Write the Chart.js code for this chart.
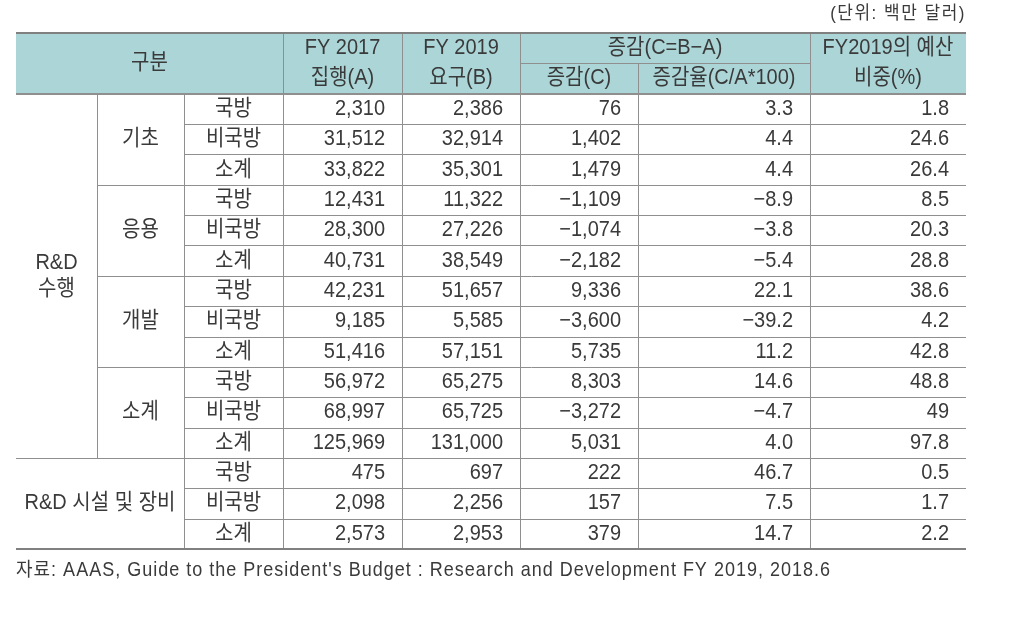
<!DOCTYPE html>
<html lang="ko">
<head>
<meta charset="utf-8">
<script src="https://cdn.jsdelivr.net/npm/chart.js@4/dist/chart.umd.min.js"></script>
<style>
  html, body { margin: 0; background: #fff; }
  #wrap { width: 1020px; height: 624px; position: relative; }
</style>
</head>
<body>
<div id="wrap"><canvas id="chart"></canvas></div>
<script>
// table values
const groups = ['기초', '응용', '개발', '소계'];
const subRows = ['국방', '비국방', '소계'];
const fy2017 = [2310, 31512, 33822, 12431, 28300, 40731, 42231, 9185, 51416, 56972, 68997, 125969, 475, 2098, 2573];
const fy2019 = [2386, 32914, 35301, 11322, 27226, 38549, 51657, 5585, 57151, 65275, 65725, 131000, 697, 2256, 2953];
const change = [76, 1402, 1479, -1109, -1074, -2182, 9336, -3600, 5735, 8303, -3272, 5031, 222, 157, 379];
const changeRate = [3.3, 4.4, 4.4, -8.9, -3.8, -5.4, 22.1, -39.2, 11.2, 14.6, -4.7, 4.0, 46.7, 7.5, 14.7];
const share = [1.8, 24.6, 26.4, 8.5, 20.3, 28.8, 38.6, 4.2, 42.8, 48.8, 49, 97.8, 0.5, 1.7, 2.2];

const unitText = '(단위: 백만 달러)';
const sourceText = "자료: AAAS, Guide to the President's Budget : Research and Development FY 2019, 2018.6";

// column edges (x scale units) and row count (y scale units)
const colEdges = [16, 97, 184, 283, 402, 520, 638, 810, 966];
const ROWS = 17; // 2 header rows + 15 data rows

const FONT = '"Liberation Sans", "Noto Sans CJK KR", sans-serif';
const INK = '#3a3a3a';
const LINE = '#8f8f8f';
const HEAD_BG = '#abd5d7';

function fmtInt(v) {
  return (v < 0 ? '\u2212' : '') + Math.abs(v).toLocaleString('en-US');
}
function fmtDec(v) {
  return (v < 0 ? '\u2212' : '') + Math.abs(v).toFixed(1);
}

function txt(ctx, s, x, y, align, size, spacing) {
  ctx.save();
  ctx.font = size + 'px ' + FONT;
  ctx.fillStyle = INK;
  ctx.textAlign = align;
  ctx.textBaseline = 'middle';
  if (spacing) ctx.letterSpacing = spacing + 'px';
  ctx.translate(x, y);
  ctx.scale(1, 1.08);
  ctx.fillText(s, 0, 0);
  ctx.restore();
}

const tablePlugin = {
  id: 'table',
  afterDraw(chart) {
    const ctx = chart.ctx;
    const xs = chart.scales.x, ys = chart.scales.y;
    const X = v => xs.getPixelForValue(v);
    const Y = v => ys.getPixelForValue(v);
    const E = i => X(colEdges[i]);
    const midX = (a, b) => (E(a) + E(b)) / 2;

    // header background
    ctx.fillStyle = HEAD_BG;
    ctx.fillRect(E(0), Y(0), E(8) - E(0), Y(2) - Y(0));

    const hline = (yv, a, b, w, col) => {
      ctx.save();
      ctx.strokeStyle = col || LINE;
      ctx.lineWidth = w;
      ctx.beginPath();
      const y = Math.round(Y(yv)) + (w % 2 ? 0.5 : 0);
      ctx.moveTo(E(a), y);
      ctx.lineTo(E(b), y);
      ctx.stroke();
      ctx.restore();
    };
    const vline = (i, y0, y1) => {
      ctx.save();
      ctx.strokeStyle = LINE;
      ctx.lineWidth = 1;
      ctx.beginPath();
      const x = Math.round(E(i)) + 0.5;
      ctx.moveTo(x, Y(y0));
      ctx.lineTo(x, Y(y1));
      ctx.stroke();
      ctx.restore();
    };

    hline(1, 5, 7, 1);
    for (let k = 1; k < 15; k++) {
      let from = 2;
      if (k === 12) from = 0;
      else if (k % 3 === 0) from = 1;
      hline(2 + k, from, 8, 1);
    }
    vline(1, 2, 14);
    vline(2, 2, 17);
    [3, 4, 5, 7].forEach(i => vline(i, 0, 17));
    vline(6, 1, 17);
    hline(2, 0, 8, 2);
    hline(0, 0, 8, 2, '#808080');
    hline(17, 0, 8, 2, '#808080');

    // header text
    const fs = 20;
    txt(ctx, '구분', midX(0, 3), Y(1), 'center', fs);
    txt(ctx, 'FY 2017', midX(3, 4), Y(0.5), 'center', fs);
    txt(ctx, '집행(A)', midX(3, 4), Y(1.5), 'center', fs);
    txt(ctx, 'FY 2019', midX(4, 5), Y(0.5), 'center', fs);
    txt(ctx, '요구(B)', midX(4, 5), Y(1.5), 'center', fs);
    txt(ctx, '증감(C=B\u2212A)', midX(5, 7), Y(0.5), 'center', fs);
    txt(ctx, '증감(C)', midX(5, 6), Y(1.5), 'center', fs);
    txt(ctx, '증감율(C/A*100)', midX(6, 7), Y(1.5), 'center', fs);
    txt(ctx, 'FY2019의 예산', midX(7, 8), Y(0.5), 'center', fs);
    txt(ctx, '비중(%)', midX(7, 8), Y(1.5), 'center', fs);

    // row labels
    txt(ctx, 'R&D', midX(0, 1), Y(8) - 13, 'center', fs);
    txt(ctx, '수행', midX(0, 1), Y(8) + 13, 'center', fs);
    groups.forEach((g, i) => txt(ctx, g, midX(1, 2), Y(2 + i * 3 + 1.5), 'center', fs));
    txt(ctx, 'R&D 시설 및 장비', midX(0, 2), Y(15.5), 'center', fs);

    // data cells
    const pad = 17;
    for (let r = 0; r < 15; r++) {
      const yc = Y(2 + r + 0.5);
      txt(ctx, subRows[r % 3], midX(2, 3), yc, 'center', fs);
      txt(ctx, fmtInt(fy2017[r]), E(4) - pad, yc, 'right', fs);
      txt(ctx, fmtInt(fy2019[r]), E(5) - pad, yc, 'right', fs);
      txt(ctx, fmtInt(change[r]), E(6) - pad, yc, 'right', fs);
      txt(ctx, fmtDec(changeRate[r]), E(7) - pad, yc, 'right', fs);
      txt(ctx, String(share[r]), E(8) - pad, yc, 'right', fs);
    }

    // unit + source
    txt(ctx, unitText, E(8), Y(0) - 19, 'right', 17, 1.5);
    txt(ctx, sourceText, E(0), Y(17) + 22, 'left', 18, 1);
  }
};

new Chart(document.getElementById('chart'), {
  type: 'scatter',
  data: { datasets: [] },
  options: {
    responsive: true,
    maintainAspectRatio: false,
    animation: false,
    layout: { padding: { left: 16, right: 54, top: 33, bottom: 75 } },
    plugins: { legend: { display: false }, tooltip: { enabled: false } },
    scales: {
      x: { type: 'linear', min: colEdges[0], max: colEdges[colEdges.length - 1], display: false },
      y: { type: 'linear', min: 0, max: ROWS, reverse: true, display: false }
    }
  },
  plugins: [tablePlugin]
});
</script>
</body>
</html>
